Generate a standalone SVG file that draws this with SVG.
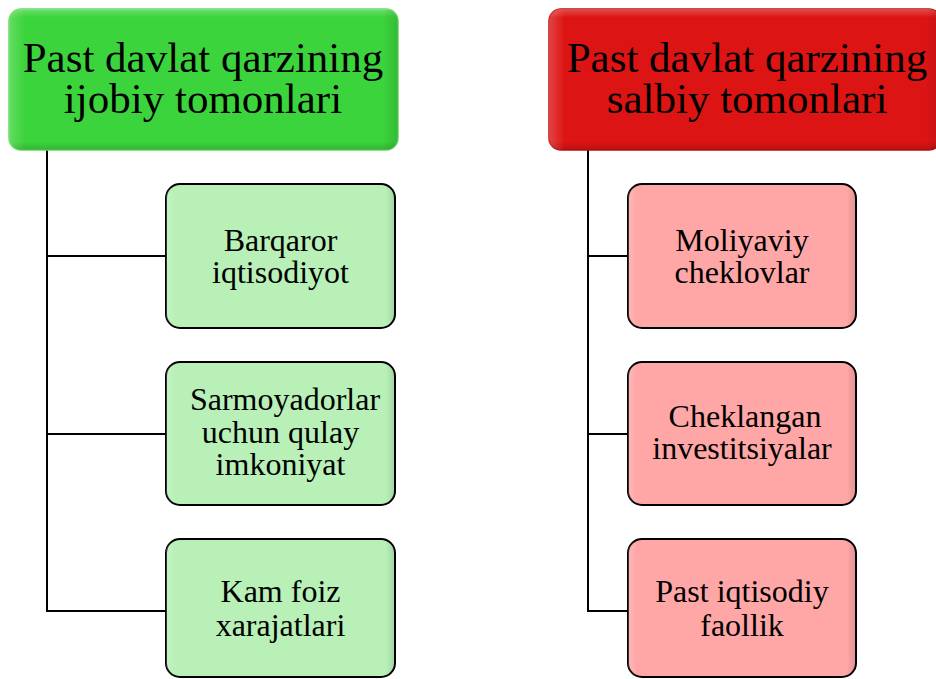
<svg xmlns="http://www.w3.org/2000/svg" width="936" height="679" viewBox="0 0 936 679">
<defs>
<linearGradient id="shadeV" x1="0" y1="0" x2="0" y2="1">
<stop offset="0" stop-color="#fff" stop-opacity="0.25"/>
<stop offset="0.06" stop-color="#fff" stop-opacity="0"/>
<stop offset="0.94" stop-color="#000" stop-opacity="0"/>
<stop offset="1" stop-color="#000" stop-opacity="0.15"/>
</linearGradient>
<linearGradient id="shadeH" x1="0" y1="0" x2="1" y2="0">
<stop offset="0" stop-color="#fff" stop-opacity="0.2"/>
<stop offset="0.04" stop-color="#fff" stop-opacity="0"/>
<stop offset="0.96" stop-color="#000" stop-opacity="0"/>
<stop offset="1" stop-color="#000" stop-opacity="0.12"/>
</linearGradient>
</defs>
<style>
.hg{fill:#3cd43c;stroke:#62dc62;stroke-width:1.5}
.hr{fill:#dc1414;stroke:#c01010;stroke-width:1.5}
.cg{fill:#b8f0b8;stroke:#000;stroke-width:2}
.cr{fill:#ffa6a6;stroke:#000;stroke-width:2}
.ov{stroke:none}
.ht{font-family:"Liberation Serif",serif;font-size:43px;fill:#000;text-anchor:middle}
.ct{font-family:"Liberation Serif",serif;font-size:32px;fill:#000;text-anchor:middle}
.ln{fill:none;stroke:#000;stroke-width:2}
</style>
<g id="connectors">
<path class="ln" d="M47 150 V611 H166 M47 256 H166 M47 434 H166"/>
<path class="ln" d="M588 150 V611 H628 M588 256 H628 M588 434 H628"/>
</g>
<g id="h1">
<rect class="hg" x="9" y="9" width="389" height="141" rx="12"/>
<rect class="ov" x="9" y="9" width="389" height="141" rx="12" fill="url(#shadeV)"/>
<rect class="ov" x="9" y="9" width="389" height="141" rx="12" fill="url(#shadeH)"/>
<text class="ht" x="203" y="72">Past davlat qarzining</text>
<text class="ht" x="203" y="113">ijobiy tomonlari</text>
</g>
<g id="h2">
<rect class="hr" x="549" y="9" width="392" height="141" rx="12"/>
<rect class="ov" x="549" y="9" width="392" height="141" rx="12" fill="url(#shadeV)"/>
<rect class="ov" x="549" y="9" width="392" height="141" rx="12" fill="url(#shadeH)"/>
<text class="ht" x="747" y="72">Past davlat qarzining</text>
<text class="ht" x="747" y="113">salbiy tomonlari</text>
</g>
<g id="g1">
<rect class="cg" x="166" y="184" width="229" height="144" rx="14"/>
<rect class="ov" x="166" y="184" width="229" height="144" rx="14" fill="url(#shadeH)"/>
<text class="ct" x="280.5" y="251">Barqaror</text>
<text class="ct" x="280.5" y="283">iqtisodiyot</text>
</g>
<g id="g2">
<rect class="cg" x="166" y="362" width="229" height="143" rx="14"/>
<rect class="ov" x="166" y="362" width="229" height="143" rx="14" fill="url(#shadeH)"/>
<text class="ct" x="285" y="410">Sarmoyadorlar</text>
<text class="ct" x="280.5" y="443">uchun qulay</text>
<text class="ct" x="280.5" y="475">imkoniyat</text>
</g>
<g id="g3">
<rect class="cg" x="166" y="539" width="229" height="138" rx="14"/>
<rect class="ov" x="166" y="539" width="229" height="138" rx="14" fill="url(#shadeH)"/>
<text class="ct" x="280.5" y="602">Kam foiz</text>
<text class="ct" x="280.5" y="636">xarajatlari</text>
</g>
<g id="r1">
<rect class="cr" x="628" y="184" width="228" height="144" rx="14"/>
<rect class="ov" x="628" y="184" width="228" height="144" rx="14" fill="url(#shadeH)"/>
<text class="ct" x="742" y="251">Moliyaviy</text>
<text class="ct" x="742" y="283">cheklovlar</text>
</g>
<g id="r2">
<rect class="cr" x="628" y="362" width="228" height="143" rx="14"/>
<rect class="ov" x="628" y="362" width="228" height="143" rx="14" fill="url(#shadeH)"/>
<text class="ct" x="745" y="427">Cheklangan</text>
<text class="ct" x="742" y="459">investitsiyalar</text>
</g>
<g id="r3">
<rect class="cr" x="628" y="539" width="228" height="138" rx="14"/>
<rect class="ov" x="628" y="539" width="228" height="138" rx="14" fill="url(#shadeH)"/>
<text class="ct" x="742" y="602">Past iqtisodiy</text>
<text class="ct" x="742" y="636">faollik</text>
</g>
</svg>
